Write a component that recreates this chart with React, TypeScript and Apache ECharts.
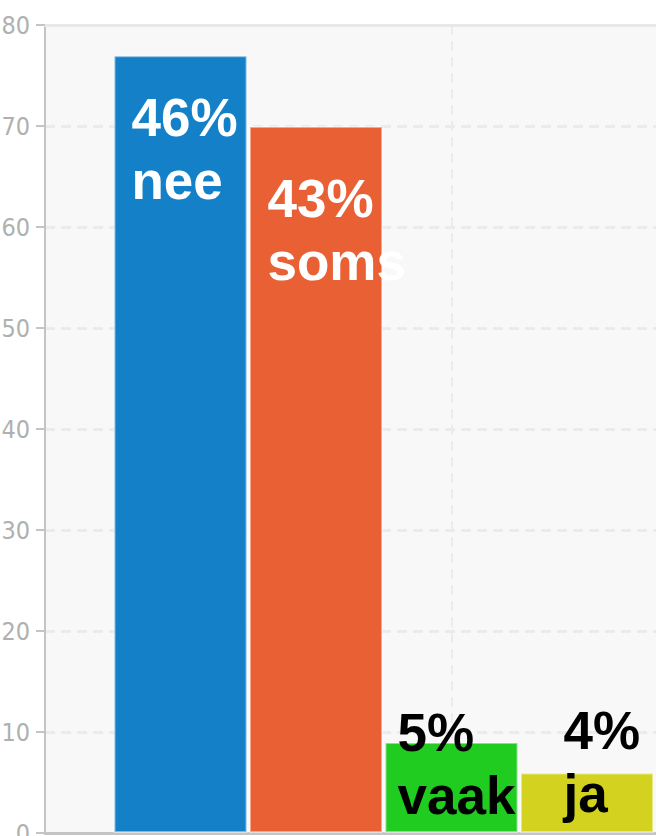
import React, { useEffect, useRef } from "react";
import * as echarts from "echarts";

const positions = [1, 2, 3, 4];
const values = [77, 70, 9, 6];
const percentLabels = ["46%", "43%", "5%", "4%"];
const answerLabels = ["nee", "soms", "vaak", "ja"];
const barColors = ["#1380c8", "#e86033", "#21cc21", "#d3d31f"];
const labelColors = ["#ffffff", "#ffffff", "#000000", "#000000"];
const labelOffsets = [
  [18, 31],
  [18.5, 41],
  [13, -41],
  [43.5, -73],
];
const yTicks = { min: 0, max: 80, interval: 10 };

export default function App() {
  const ref = useRef<HTMLDivElement>(null);

  useEffect(() => {
    if (!ref.current) return;
    const chart = echarts.init(ref.current, undefined, { renderer: "svg" });
    const data = values.map((v, i) => ({
      value: [positions[i], v],
      itemStyle: {
        color: barColors[i],
        borderColor: "rgba(255,255,255,0.45)",
        borderWidth: 2,
      },
      label: {
        show: true,
        position: labelOffsets[i],
        align: "left",
        verticalAlign: "top",
        formatter: percentLabels[i] + "\n" + answerLabels[i],
        color: labelColors[i],
        fontFamily: "Liberation Sans, Arial, sans-serif",
        fontWeight: "bold",
        fontSize: 53,
        lineHeight: 63,
      },
    }));
    chart.setOption({
      animation: false,
      backgroundColor: "#ffffff",
      grid: {
        left: 45,
        top: 25,
        bottom: 3,
        right: -66.5,
        containLabel: false,
        outerBoundsMode: "none",
        show: true,
        backgroundColor: "#f8f8f8",
        borderWidth: 0,
      },
      xAxis: [
        {
          type: "value",
          min: 0,
          max: 5,
          interval: 3,
          position: "bottom",
          axisLabel: { show: false },
          axisTick: { show: false },
          axisLine: { show: true, onZero: false, lineStyle: { color: "#c4c4c4", width: 3 } },
          splitLine: {
            show: true,
            lineStyle: { color: "#ebebeb", width: 2, type: [10, 6] },
          },
        },
        {
          type: "value",
          min: 0,
          max: 5,
          position: "top",
          axisLabel: { show: false },
          axisTick: { show: false },
          axisLine: { show: true, onZero: false, lineStyle: { color: "#e8e8e8", width: 3 } },
          splitLine: { show: false },
        },
      ],
      yAxis: {
        type: "value",
        min: yTicks.min,
        max: yTicks.max,
        interval: yTicks.interval,
        axisLine: { show: true, lineStyle: { color: "#c4c4c4", width: 2 } },
        axisTick: { show: true, length: 9, lineStyle: { color: "#c4c4c4", width: 2 } },
        axisLabel: {
          margin: 15,
          color: "#b0b0b0",
          fontSize: 25,
          fontFamily: "Liberation Sans Narrow, DejaVu Sans Condensed, Liberation Sans, sans-serif",
        },
        splitLine: {
          show: true,
          lineStyle: { color: "#ebebeb", width: 3, type: [10, 6] },
        },
      },
      series: [
        {
          type: "bar",
          xAxisIndex: 0,
          barWidth: 134,
          clip: false,
          data,
        },
      ],
    });
    return () => chart.dispose();
  }, []);

  return (
    <div
      ref={ref}
      style={{ position: "fixed", left: 0, top: 0, width: 656, height: 836 }}
    />
  );
}
